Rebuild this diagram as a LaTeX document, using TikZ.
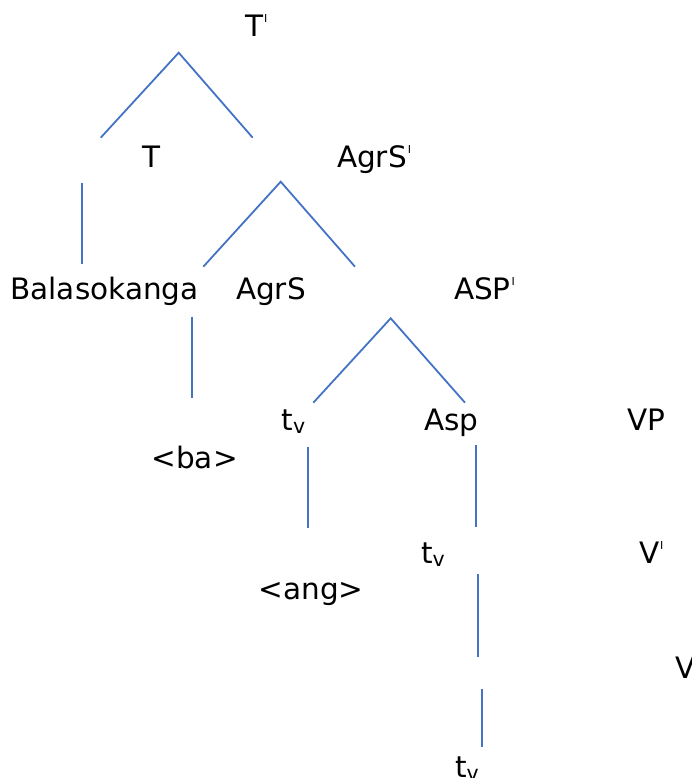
\documentclass[tikz,border=0pt]{standalone}
\usepackage{fontspec}
\setmainfont{DejaVu Sans}
\definecolor{branch}{HTML}{4472C4}
\newcommand{\barmark}{\kern1pt\raisebox{13.5pt}{\fontsize{11}{11}\selectfont I}}
\newcommand{\tv}{t\raisebox{-3pt}{\fontsize{20.5}{20.5}\selectfont v}}
\begin{document}
\begin{tikzpicture}[x=1pt,y=-1pt,
  lbl/.style={anchor=base west,inner sep=0pt,outer sep=0pt,font=\fontsize{29.5}{35}\selectfont,text=black},
  br/.style={draw=branch,line width=1.8pt}]
\useasboundingbox (0,0) rectangle (692,778);
% labels
\node[lbl] (Tbar) at (245,36.5) {T\barmark};
\node[lbl] (T) at (142,167.5) {T};
\node[lbl] (AgrSbar) at (337,167.5) {AgrS\barmark};
\node[lbl] (Bal) at (10.4,299) {Balasokanga};
\node[lbl] (AgrS) at (236,299) {AgrS};
\node[lbl] (ASPbar) at (454,299) {ASP\barmark};
\node[lbl] (ba) at (151.5,468.5) {<ba>};
\node[lbl] (tv1) at (281.5,430) {\tv};
\node[lbl] (Asp) at (424,430) {Asp};
\node[lbl] (VP) at (627,430) {VP};
\node[lbl] (tv2) at (421,563) {\tv};
\node[lbl] (Vbar) at (639,563) {V\barmark};
\node[lbl] (ang) at (258.5,599) {<ang>};
\node[lbl] (V) at (675.5,678.5) {V};
\node[lbl] (tv3) at (455,777) {\tv};
% branch points
\coordinate (a1) at (178.7,52.7);
\coordinate (a1l) at (100.7,137.7);
\coordinate (a1r) at (252.7,137.7);
\coordinate (b1t) at (82.3,183.3);
\coordinate (b1b) at (82.3,264.3);
\coordinate (a2) at (280.7,181.7);
\coordinate (a2l) at (203.3,266.7);
\coordinate (a2r) at (355,266.7);
\coordinate (b2t) at (192.3,316.7);
\coordinate (b2b) at (192.3,398.3);
\coordinate (a3) at (390.7,318.3);
\coordinate (a3l) at (313.3,402.7);
\coordinate (a3r) at (465,402.7);
\coordinate (b3t) at (308.3,446.7);
\coordinate (b3b) at (308.3,528.3);
\coordinate (b4t) at (475.7,445);
\coordinate (b4b) at (475.7,526.7);
\coordinate (b5t) at (478,574.3);
\coordinate (b5b) at (478,656.7);
\coordinate (b6t) at (482,689.3);
\coordinate (b6b) at (482,746.7);
% branches
\draw[br] (a1l) -- (a1) -- (a1r);
\draw[br] (b1t) -- (b1b);
\draw[br] (a2l) -- (a2) -- (a2r);
\draw[br] (b2t) -- (b2b);
\draw[br] (a3l) -- (a3) -- (a3r);
\draw[br] (b3t) -- (b3b);
\draw[br] (b4t) -- (b4b);
\draw[br] (b5t) -- (b5b);
\draw[br] (b6t) -- (b6b);
\end{tikzpicture}
\end{document}
